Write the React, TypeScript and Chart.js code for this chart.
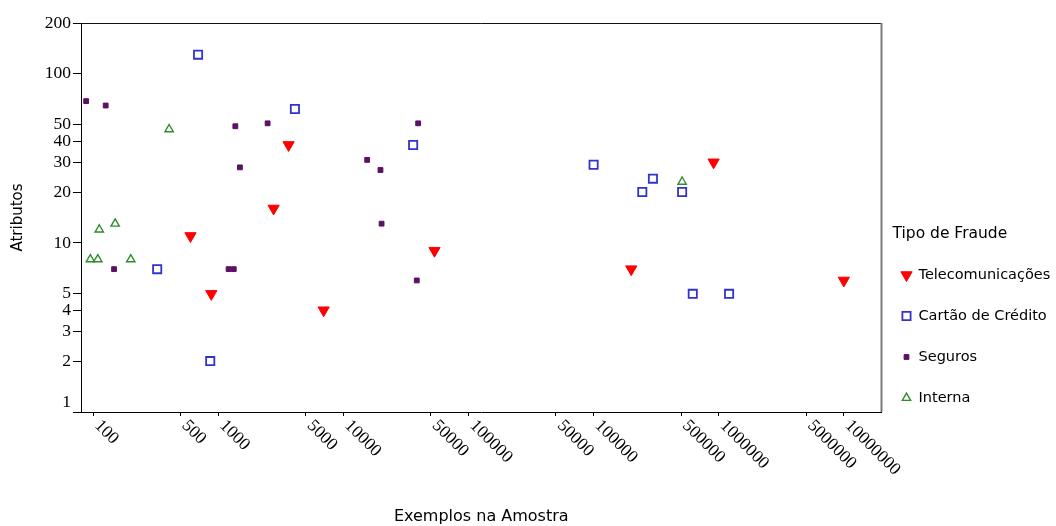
import { useEffect, useRef } from "react";
import { Chart, registerables, PointElement } from "chart.js";

Chart.register(...registerables);

const seriesNames = ["Telecomunicações", "Cartão de Crédito", "Seguros", "Interna"];

const telecomX = [600, 880, 2770, 3650, 6960, 53500, 2.0e6, 9.1e6, 1.0e8];
const telecomY = [11, 5, 16, 38, 4, 9, 7, 30, 6];

const cartaoX = [325, 690, 863, 4100, 36100, 1.0e6, 2.45e6, 2.98e6, 5.1e6, 6.2e6, 1.21e7];
const cartaoY = [7, 130, 2, 62, 38, 29, 20, 24, 20, 5, 5];

const segurosX = [88, 126, 147, 1210, 1330, 1370, 1490, 2480, 15500, 19800, 20200, 38600, 39600];
const segurosY = [69, 65, 7, 7, 7, 49, 28, 51, 31, 27, 13, 6, 51];

const internaX = [95, 109, 112, 150, 200, 405, 5.1e6];
const internaY = [8, 8, 12, 13, 8, 47, 23];

const xTickValues = [100, 500, 1000, 5000, 10000, 50000, 100000, 500000, 1000000, 5000000, 10000000, 50000000, 100000000];
const xTickLabels = ["100", "500", "1000", "5000", "10000", "50000", "100000", "50000", "100000", "500000", "1000000", "5000000", "10000000"];

const yTickValues = [1, 2, 3, 4, 5, 10, 20, 30, 40, 50, 100, 200];
const yTickLabels = ["1", "2", "3", "4", "5", "10", "20", "30", "40", "50", "100", "200"];

const xTitle = "Exemplos na Amostra";
const yTitle = "Atributos";
const legendTitle = "Tipo de Fraude";

const zip = (xs: number[], ys: number[]) => xs.map((x, i) => ({ x, y: ys[i] }));

const styles = [
  { pointStyle: "triangle", rotation: 180, radius: 6.5, backgroundColor: "#ff0000", borderColor: "#ff0000", borderWidth: 1 },
  { pointStyle: "rect", rotation: 0, radius: 5.8, backgroundColor: "rgba(255,255,255,0)", borderColor: "#3333cc", borderWidth: 1.8 },
  { pointStyle: "rect", rotation: 0, radius: 3.4, backgroundColor: "#5c1066", borderColor: "#5c1066", borderWidth: 1 },
  { pointStyle: "triangle", rotation: 0, radius: 4.8, backgroundColor: "rgba(255,255,255,0)", borderColor: "#2e8b2e", borderWidth: 1.4 },
];

const serif = "'Liberation Serif', 'DejaVu Serif', serif";
const sans = "'DejaVu Sans', 'Noto Sans', sans-serif";

const decorPlugin = {
  id: "decor",
  afterDraw(chart: any) {
    const { ctx, chartArea } = chart;
    const xs = chart.scales.x;
    const ys = chart.scales.y;
    ctx.save();
    // top and right frame
    ctx.strokeStyle = "#111";
    ctx.lineWidth = 1;
    ctx.beginPath();
    ctx.moveTo(chartArea.left, chartArea.top + 0.5);
    ctx.lineTo(chartArea.right, chartArea.top + 0.5);
    ctx.stroke();
    ctx.strokeStyle = "#7a7a7a";
    ctx.lineWidth = 2;
    ctx.beginPath();
    ctx.moveTo(chartArea.right, chartArea.top);
    ctx.lineTo(chartArea.right, chartArea.bottom);
    ctx.stroke();

    // x tick labels (rotated clockwise)
    ctx.fillStyle = "#000";
    ctx.font = `17.5px ${serif}`;
    ctx.textAlign = "left";
    ctx.textBaseline = "middle";
    xTickValues.forEach((v, i) => {
      const px = xs.getPixelForValue(v);
      ctx.save();
      ctx.translate(px + 4, chartArea.bottom + 11);
      ctx.rotate(Math.PI / 4);
      ctx.fillText(xTickLabels[i], 0, 0);
      ctx.restore();
    });

    // y tick labels
    ctx.textAlign = "right";
    yTickValues.forEach((v, i) => {
      const py = Math.min(ys.getPixelForValue(v), chartArea.bottom - 10);
      ctx.fillText(yTickLabels[i], chartArea.left - 10, py);
    });

    // legend
    const lx = chartArea.right + 25;
    ctx.textAlign = "left";
    ctx.font = `15.5px ${sans}`;
    ctx.fillText(legendTitle, chartArea.right + 11, 234);
    ctx.font = `14.5px ${sans}`;
    seriesNames.forEach((name, i) => {
      const y = 275 + 41 * i;
      const pt: any = new PointElement({});
      pt.x = lx;
      pt.y = y;
      pt.options = styles[i];
      pt.draw(ctx);
      ctx.fillStyle = "#000";
      ctx.fillText(name, lx + 12, y);
    });
    ctx.restore();
  },
};

export default function App() {
  const ref = useRef<HTMLCanvasElement | null>(null);
  useEffect(() => {
    document.body.style.margin = "0";
    const canvas = ref.current;
    if (!canvas) return;
    const seriesData = [zip(telecomX, telecomY), zip(cartaoX, cartaoY), zip(segurosX, segurosY), zip(internaX, internaY)];
    const chart = new Chart(canvas, {
      type: "scatter",
      data: {
        datasets: seriesNames.map((name, i) => ({
          label: name,
          data: seriesData[i],
          pointStyle: styles[i].pointStyle as any,
          pointRotation: styles[i].rotation,
          pointRadius: styles[i].radius,
          pointHoverRadius: styles[i].radius,
          pointBackgroundColor: styles[i].backgroundColor,
          pointBorderColor: styles[i].borderColor,
          pointBorderWidth: styles[i].borderWidth,
          backgroundColor: styles[i].backgroundColor,
          borderColor: styles[i].borderColor,
          showLine: false,
        })),
      },
      options: {
        animation: false,
        responsive: true,
        maintainAspectRatio: false,
        layout: { padding: { top: 23, right: 174.5, bottom: 0, left: 0 } },
        plugins: { legend: { display: false }, tooltip: { enabled: false } },
        scales: {
          x: {
            type: "logarithmic",
            min: 80,
            max: 2e8,
            afterBuildTicks: (s: any) => {
              s.ticks = xTickValues.map((v) => ({ value: v }));
            },
            afterFit: (s: any) => {
              s.height = 114;
            },
            ticks: { display: false },
            grid: { drawOnChartArea: false, drawTicks: true, tickLength: 4, color: "#000", lineWidth: 1 },
            border: { display: true, color: "#000", width: 1 },
            title: {
              display: true,
              text: xTitle,
              color: "#000",
              font: { family: sans, size: 16 },
              padding: { top: 0, bottom: 0 },
            },
          },
          y: {
            type: "logarithmic",
            min: 1,
            max: 200,
            afterBuildTicks: (s: any) => {
              s.ticks = yTickValues.map((v) => ({ value: v }));
            },
            afterFit: (s: any) => {
              s.width = 81;
            },
            ticks: { display: false },
            grid: { drawOnChartArea: false, drawTicks: true, tickLength: 8, color: "#000", lineWidth: 1 },
            border: { display: true, color: "#000", width: 1 },
            title: {
              display: true,
              text: yTitle,
              color: "#000",
              font: { family: sans, size: 15 },
              padding: { top: 9, bottom: 0 },
            },
          },
        },
      },
      plugins: [decorPlugin],
    });
    return () => chart.destroy();
  }, []);
  return (
    <div style={{ position: "fixed", left: 0, top: 0, width: 1056, height: 526, background: "#fff" }}>
      <canvas ref={ref} />
    </div>
  );
}
